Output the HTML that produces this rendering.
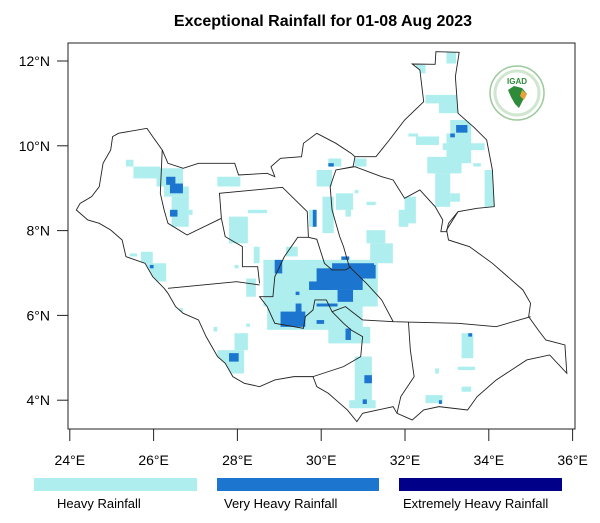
<!DOCTYPE html>
<html><head><meta charset="utf-8"><style>
html,body{margin:0;padding:0;background:#fff;}
svg{display:block;font-family:"Liberation Sans",Arial,sans-serif;}
</style></head><body>
<svg id="chart" width="600" height="523" viewBox="0 0 600 523" xmlns="http://www.w3.org/2000/svg">
<text x="323" y="26" text-anchor="middle" font-size="16" font-weight="bold">Exceptional Rainfall for 01-08 Aug 2023</text>
<defs>
<clipPath id="country-clip">
<path id="outlinePathClip" transform="translate(0,30) scale(0.3817,0.3333)" d="M1142,65 L1203,67 L1193,140 L1200,250 L1240,290 L1275,330 L1290,420 L1295,530 L1250,535 L1200,545 L1170,600 L1175,630 L1230,650 L1290,700 L1330,740 L1370,780 L1390,820 L1385,860 L1410,900 L1430,930 L1480,945 L1485,1030 L1440,975 L1380,990 L1300,1050 L1250,1100 L1225,1140 L1150,1130 L1110,1140 L1080,1170 L1040,1150 L1030,1130 L990,1140 L950,1150 L935,1175 L910,1140 L880,1110 L860,1090 L830,1070 L820,1040 L770,1040 L720,1050 L680,1070 L640,1060 L610,1040 L590,1000 L570,980 L540,920 L520,870 L480,850 L460,830 L440,790 L430,775 L400,740 L380,700 L330,680 L320,630 L290,600 L260,580 L230,570 L200,540 L210,520 L240,500 L260,470 L270,400 L290,360 L295,320 L310,310 L385,295 L400,320 L425,360 L440,400 L480,415 L520,400 L615,400 L625,435 L700,430 L720,440 L710,410 L735,385 L790,380 L795,340 L830,310 L880,340 L920,370 L930,380 L985,380 L1020,330 L1060,270 L1110,215 L1100,120 L1080,102 L1140,103 Z"/>
</clipPath>
</defs>
<rect x="68" y="43" width="507" height="386" fill="#fff" stroke="#222" stroke-width="1"/>
<g id="cells" clip-path="url(#country-clip)"></g>
<g transform="translate(0,30) scale(0.3817,0.3333)" fill="none" stroke="#222" stroke-width="0.9">
<path vector-effect="non-scaling-stroke" d="M1142,65 L1203,67 L1193,140 L1200,250 L1240,290 L1275,330 L1290,420 L1295,530 L1250,535 L1200,545 L1170,600 L1175,630 L1230,650 L1290,700 L1330,740 L1370,780 L1390,820 L1385,860 L1410,900 L1430,930 L1480,945 L1485,1030 L1440,975 L1380,990 L1300,1050 L1250,1100 L1225,1140 L1150,1130 L1110,1140 L1080,1170 L1040,1150 L1030,1130 L990,1140 L950,1150 L935,1175 L910,1140 L880,1110 L860,1090 L830,1070 L820,1040 L770,1040 L720,1050 L680,1070 L640,1060 L610,1040 L590,1000 L570,980 L540,920 L520,870 L480,850 L460,830 L440,790 L430,775 L400,740 L380,700 L330,680 L320,630 L290,600 L260,580 L230,570 L200,540 L210,520 L240,500 L260,470 L270,400 L290,360 L295,320 L310,310 L385,295 L400,320 L425,360 L440,400 L480,415 L520,400 L615,400 L625,435 L700,430 L720,440 L710,410 L735,385 L790,380 L795,340 L830,310 L880,340 L920,370 L930,380 L985,380 L1020,330 L1060,270 L1110,215 L1100,120 L1080,102 L1140,103 Z"/>
<path vector-effect="non-scaling-stroke" d="M425,360 L420,490 L430,540 L440,580 L490,615 L580,565 M580,565 L575,490 L740,472 L805,545 L808,622 M580,565 L590,620 L635,650 L635,710 L675,710 L680,760 M440,775 L620,755 L680,765 M808,622 L780,622 L745,680 L720,740 L715,800 L680,800 L700,830 L720,880 L795,895 L800,860 L820,840 L825,810 L855,810 L870,845 L905,830 L950,870 M808,622 L830,628 L850,700 L870,720 L905,720 L920,710 M930,380 L925,410 L880,420 L865,470 L870,540 L880,580 L890,620 L900,650 L915,710 L960,760 L1000,810 L1030,875 M880,420 L930,410 L1000,440 L1030,450 L1060,505 L1100,480 L1140,530 L1160,570 L1155,605 L1170,605 L1175,580 L1200,545 M950,870 L1030,875 L1200,880 L1300,890 L1390,860 M1070,875 L1075,960 L1085,1040 L1050,1100 L1040,1150 M870,845 L900,880 L920,900 L950,920 L945,980 L900,1010 L860,1025 L820,1040"/>
</g>
<g id="axes"></g>
<g>
<circle cx="517" cy="93" r="27" fill="#fff" stroke="#9cc99c" stroke-width="1.5"/>
<circle cx="517" cy="93" r="22" fill="none" stroke="#cfe6cf" stroke-width="3"/>
<text x="517" y="84" text-anchor="middle" font-size="8" font-weight="bold" fill="#2e8b3a">IGAD</text>
<path d="M508,90 L514,86 L522,88 L527,94 L523,100 L519,108 L515,104 L511,97 Z" fill="#2e8b3a"/>
<path d="M522,90 L527,94 L524,100 L520,96 Z" fill="#e8a33a"/>
</g>
<g id="legend">
<rect x="34" y="478" width="163" height="13" fill="#afeeee"/>
<rect x="217" y="478" width="162" height="13" fill="#1c75cf"/>
<rect x="399" y="478" width="163" height="13" fill="#000088"/>
<text x="57" y="508" font-size="13">Heavy Rainfall</text>
<text x="224" y="508" font-size="13">Very Heavy Rainfall</text>
<text x="403" y="508" font-size="13">Extremely Heavy Rainfall</text>
</g>
</svg>
<script>
const lonTicks = [24, 26, 28, 30, 32, 34, 36];
const latTicks = [4, 6, 8, 10, 12];
const heavyCells = [
[32.26,11.71,32.49,11.91],[32.99,11.94,33.22,12.22],[32.49,11.00,32.81,11.20],[32.81,10.77,33.26,11.20],
[33.08,10.29,33.58,10.61],[32.99,9.59,33.58,10.29],[32.08,10.22,32.31,10.29],[32.26,10.02,32.81,10.22],
[32.90,9.90,33.90,10.06],[32.53,9.35,33.35,9.74],[32.72,8.56,33.08,9.35],[33.08,8.68,33.31,8.88],
[33.90,8.56,34.13,9.43],[33.63,9.51,33.81,9.59],[30.80,9.51,31.08,9.70],[31.99,8.17,32.26,8.80],
[31.85,8.09,32.08,8.49],[31.08,7.70,31.53,8.01],[31.17,7.23,31.71,7.70],[30.80,8.88,30.89,8.96],
[30.35,8.49,30.76,8.88],[31.08,8.60,31.30,8.68],[30.17,9.51,30.48,9.70],[29.89,9.04,30.26,9.43],
[30.03,7.94,30.30,8.80],[29.71,8.09,29.89,8.49],[30.58,8.33,30.71,8.49],[27.80,7.70,28.25,8.33],
[28.25,8.41,28.71,8.49],[28.39,7.23,28.53,7.62],[27.93,7.11,28.03,7.19],[28.21,6.44,28.44,6.87],
[25.34,9.51,25.52,9.67],[25.52,9.23,26.16,9.51],[26.07,9.04,26.70,9.47],[26.25,8.80,26.84,9.04],
[26.43,8.09,26.84,8.80],[27.52,9.04,28.07,9.27],[26.84,8.37,26.93,8.49],[25.43,7.39,25.61,7.46],
[25.70,7.23,25.98,7.50],[25.79,6.80,26.30,7.23],[26.61,6.09,26.70,6.17],[27.43,5.62,27.52,5.73],
[28.21,5.73,28.30,5.81],[28.62,6.21,31.35,7.31],[29.16,7.39,29.44,7.62],[28.71,5.66,30.99,6.21],
[30.17,5.34,30.99,5.81],[30.99,5.34,31.17,5.73],[27.52,4.63,28.16,5.18],[27.93,5.18,28.25,5.58],
[30.80,3.85,31.21,5.03],[30.67,3.81,31.30,4.00],[33.35,4.99,33.63,5.58],[33.26,4.71,33.67,4.79],
[33.35,4.20,33.58,4.32],[32.49,3.93,32.90,4.12],[32.72,4.63,32.81,4.75]
];
const veryHeavyCells = [
[26.30,9.08,26.52,9.27],[26.39,8.88,26.70,9.11],[26.39,8.33,26.57,8.49],[29.80,8.09,29.89,8.49],
[30.17,9.51,30.30,9.59],[33.22,10.31,33.49,10.49],[33.08,10.20,33.19,10.29],[28.89,6.99,29.07,7.31],
[29.89,6.60,30.99,7.11],[29.71,6.60,30.26,6.80],[30.26,6.87,31.26,7.23],[30.89,6.87,31.30,7.19],
[30.39,6.32,30.76,6.60],[30.48,7.31,30.67,7.39],[29.03,5.73,29.62,6.09],[29.39,6.05,29.53,6.28],
[29.89,6.21,30.39,6.28],[29.89,5.80,30.07,5.89],[30.58,5.42,30.71,5.69],[31.03,4.40,31.21,4.59],
[30.99,3.91,31.09,4.02],[27.80,4.91,28.03,5.11],[25.91,7.11,26.00,7.19],[33.51,5.50,33.60,5.58],
[32.81,3.91,32.88,4.00],[29.39,6.48,29.48,6.56]
];
const extremeCells = [];

const NS = 'http://www.w3.org/2000/svg';
function xScale(lon){ return 69.8 + (lon - 24) * 41.9; }
function yScale(lat){ return 61 + (12 - lat) * 42.4; }

const cellsG = document.getElementById('cells');
function drawCells(arr, color, name){
  arr.forEach(function(c){
    const r = document.createElementNS(NS, 'rect');
    r.setAttribute('x', xScale(c[0]));
    r.setAttribute('y', yScale(c[3]));
    r.setAttribute('width', xScale(c[2]) - xScale(c[0]));
    r.setAttribute('height', yScale(c[1]) - yScale(c[3]));
    r.setAttribute('fill', color);
    
    
    cellsG.appendChild(r);
  });
}
drawCells(heavyCells, '#afeeee', 'heavy-rainfall-cell');
drawCells(veryHeavyCells, '#1c75cf', 'very-heavy-rainfall-cell');
drawCells(extremeCells, '#000088', 'extreme-rainfall-cell');

const axesG = document.getElementById('axes');
lonTicks.forEach(function(lon){
  const x = xScale(lon);
  const t = document.createElementNS(NS, 'line');
  t.setAttribute('x1', x); t.setAttribute('x2', x);
  t.setAttribute('y1', 429); t.setAttribute('y2', 441);
  t.setAttribute('stroke', '#222');
  
  
  axesG.appendChild(t);
  const l = document.createElementNS(NS, 'text');
  l.setAttribute('x', x); l.setAttribute('y', 465);
  l.setAttribute('text-anchor', 'middle');
  l.setAttribute('font-size', '14');
  l.textContent = lon + '°E';
  
  
  axesG.appendChild(l);
});
latTicks.forEach(function(lat){
  const y = yScale(lat);
  const t = document.createElementNS(NS, 'line');
  t.setAttribute('x1', 57); t.setAttribute('x2', 68);
  t.setAttribute('y1', y); t.setAttribute('y2', y);
  t.setAttribute('stroke', '#222');
  
  
  axesG.appendChild(t);
  const l = document.createElementNS(NS, 'text');
  l.setAttribute('x', 50); l.setAttribute('y', y + 5);
  l.setAttribute('text-anchor', 'end');
  l.setAttribute('font-size', '14');
  l.textContent = lat + '°N';
  
  
  axesG.appendChild(l);
});
</script>
</body></html>
